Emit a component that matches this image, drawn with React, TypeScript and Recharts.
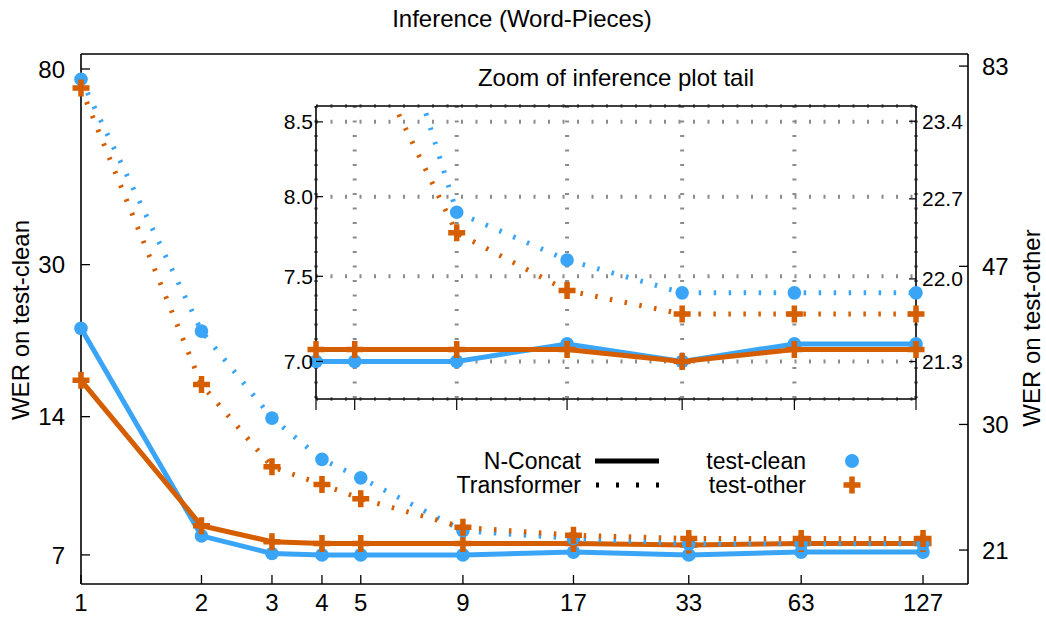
import React from 'react';
import { LineChart, Line, XAxis, YAxis, CartesianGrid } from 'recharts';

// ---------- data ----------
const chunks = [1, 2, 3, 4, 5, 9, 17, 33, 63, 127];
const cleanNConcat = [21.8, 7.7, 7.05, 7.0, 7.0, 7.0, 7.1, 7.0, 7.1, 7.1];
const otherNConcat = [34.0, 22.5, 21.5, 21.4, 21.4, 21.4, 21.4, 21.3, 21.4, 21.4];
const cleanTransformer = [76.0, 21.5, 13.9, 11.3, 10.3, 7.9, 7.6, 7.4, 7.4, 7.4];
const otherTransformer = [78.0, 33.6, 26.6, 25.3, 24.3, 22.4, 21.9, 21.7, 21.7, 21.7];

const xTicks = [1, 2, 3, 4, 5, 9, 17, 33, 63, 127];
const leftTicks = [7, 14, 30, 80];
const rightTicks = [21, 30, 47, 83];
const insetXTicks = [4, 5, 9, 17, 33, 63, 127];
const insetLeftTicks = [7.0, 7.5, 8.0, 8.5];
const insetRightTicks = [21.3, 22.0, 22.7, 23.4];

const xDomain = [1, 164.5];
const leftDomain = [6.05, 86.25];
const rightDomain = [19.07, 85.9];
const insetXDomain = [4, 127];
const insetLeftDomain = [6.79, 8.61];
const insetRightDomain = [20.99, 23.54];

const rows = chunks.map((x, i) => ({
  x,
  cleanN: cleanNConcat[i],
  otherN: otherNConcat[i],
  cleanT: cleanTransformer[i],
  otherT: otherTransformer[i],
}));
const insetRows = rows.filter((r) => r.x >= insetXDomain[0]);

// ---------- style / layout ----------
const W = 1046;
const H = 617;
const P = { left: 81, top: 54, right: 968, bottom: 584 };
const IP = { left: 316, top: 106, right: 916, bottom: 399 };
const BLUE = '#3aa5f6';
const ORANGE = '#d55e00';
const GRID = '#8c8c8c';
const FONT = '"Liberation Sans", Arial, Helvetica, sans-serif';
const DOTTED = '2.5 12.5';

const Circle = (p: any) =>
  p.cx == null || p.cy == null ? <g key={p.key} /> : (
    <circle key={p.key} cx={p.cx} cy={p.cy} r={6.8} fill={BLUE} stroke="none" />
  );
const Plus = (p: any) =>
  p.cx == null || p.cy == null ? <g key={p.key} /> : (
    <path
      key={p.key}
      d={`M${p.cx - 8.5},${p.cy}H${p.cx + 8.5}M${p.cx},${p.cy - 8.5}V${p.cy + 8.5}`}
      stroke={ORANGE}
      strokeWidth={5.5}
      fill="none"
    />
  );

// main ticks (inward)
const BottomTick = (p: any) => (
  <g>
    <line x1={p.x} x2={p.x} y1={P.bottom} y2={P.bottom - 9} stroke="#000" strokeWidth={1.3} />
    <text x={p.x} y={611} textAnchor="middle" fontSize={24} fill="#000" fontFamily={FONT}>
      {p.payload.value}
    </text>
  </g>
);
const LeftTick = (p: any) => (
  <g>
    <line x1={P.left} x2={P.left + 9} y1={p.y} y2={p.y} stroke="#000" strokeWidth={1.3} />
    <text x={65} y={p.y} dy="0.36em" textAnchor="end" fontSize={24} fill="#000" fontFamily={FONT}>
      {p.payload.value}
    </text>
  </g>
);
const RightTick = (p: any) => (
  <g>
    <line x1={P.right} x2={P.right - 9} y1={p.y} y2={p.y} stroke="#000" strokeWidth={1.3} />
    <text x={982} y={p.y} dy="0.36em" textAnchor="start" fontSize={24} fill="#000" fontFamily={FONT}>
      {p.payload.value}
    </text>
  </g>
);
// inset ticks
const InsetBottomTick = (p: any) => (
  <line x1={p.x} x2={p.x} y1={IP.bottom} y2={IP.bottom + 11} stroke="#000" strokeWidth={1.2} />
);
const InsetLeftTick = (p: any) => (
  <g>
    <line x1={IP.left} x2={IP.left + 7} y1={p.y} y2={p.y} stroke="#000" strokeWidth={1.2} />
    <text x={313} y={p.y} dy="0.36em" textAnchor="end" fontSize={21} fill="#000" fontFamily={FONT}>
      {Number(p.payload.value).toFixed(1)}
    </text>
  </g>
);
const InsetRightTick = (p: any) => (
  <g>
    <line x1={IP.right} x2={IP.right - 7} y1={p.y} y2={p.y} stroke="#000" strokeWidth={1.2} />
    <text x={922} y={p.y} dy="0.36em" textAnchor="start" fontSize={21} fill="#000" fontFamily={FONT}>
      {Number(p.payload.value).toFixed(1)}
    </text>
  </g>
);

const frame = { stroke: '#000', strokeWidth: 1.6 };

function renderLines(xId: string, lId: string, rId: string) {
  return [
    <Line key="cn" xAxisId={xId} yAxisId={lId} dataKey="cleanN" stroke={BLUE} strokeWidth={5} dot={Circle} activeDot={false} isAnimationActive={false} />,
    <Line key="on" xAxisId={xId} yAxisId={rId} dataKey="otherN" stroke={ORANGE} strokeWidth={5} dot={Plus} activeDot={false} isAnimationActive={false} />,
    <Line key="ct" xAxisId={xId} yAxisId={lId} dataKey="cleanT" stroke={BLUE} strokeWidth={5} strokeDasharray={DOTTED} dot={Circle} activeDot={false} isAnimationActive={false} />,
    <Line key="ot" xAxisId={xId} yAxisId={rId} dataKey="otherT" stroke={ORANGE} strokeWidth={5} strokeDasharray={DOTTED} dot={Plus} activeDot={false} isAnimationActive={false} />,
  ];
}

export default function App() {
  return (
    <div style={{ position: 'absolute', left: 0, top: 0, width: W, height: H, background: '#fff', fontFamily: FONT }}>
      <LineChart
        width={W}
        height={H}
        data={rows}
        margin={{ top: P.top - 1, left: P.left - 1, right: W - P.right - 1, bottom: H - P.bottom - 1 }}
        style={{ position: 'absolute', left: 0, top: 0 }}
      >
        <XAxis xAxisId="b" dataKey="x" type="number" scale="log" domain={xDomain} ticks={xTicks} interval={0} height={1} axisLine={frame} tickLine={false} tick={BottomTick} />
        <XAxis xAxisId="t" orientation="top" dataKey="x" type="number" scale="log" domain={xDomain} height={1} axisLine={frame} tickLine={false} tick={false} />
        <YAxis yAxisId="L" type="number" scale="log" domain={leftDomain} ticks={leftTicks} interval={0} width={1} axisLine={frame} tickLine={false} tick={LeftTick} />
        <YAxis yAxisId="R" orientation="right" type="number" scale="log" domain={rightDomain} ticks={rightTicks} interval={0} width={1} axisLine={frame} tickLine={false} tick={RightTick} />
        {renderLines('b', 'L', 'R')}
      </LineChart>

      <LineChart
        width={W}
        height={H}
        data={insetRows}
        margin={{ top: IP.top - 1, left: IP.left - 1, right: W - IP.right - 1, bottom: H - IP.bottom - 1 }}
        style={{ position: 'absolute', left: 0, top: 0 }}
      >
        <CartesianGrid xAxisId="ib" yAxisId="iL" stroke={GRID} strokeWidth={4} strokeDasharray="2 12.5" />
        <XAxis xAxisId="ib" dataKey="x" type="number" scale="log" domain={insetXDomain} ticks={insetXTicks} interval={0} height={1} axisLine={frame} tickLine={false} tick={InsetBottomTick} />
        <XAxis xAxisId="it" orientation="top" dataKey="x" type="number" scale="log" domain={insetXDomain} height={1} axisLine={frame} tickLine={false} tick={false} />
        <YAxis yAxisId="iL" type="number" scale="log" domain={insetLeftDomain} allowDataOverflow ticks={insetLeftTicks} interval={0} width={1} axisLine={frame} tickLine={false} tick={InsetLeftTick} />
        <YAxis yAxisId="iR" orientation="right" type="number" scale="log" domain={insetRightDomain} allowDataOverflow ticks={insetRightTicks} interval={0} width={1} axisLine={frame} tickLine={false} tick={InsetRightTick} />
        {renderLines('ib', 'iL', 'iR')}
      </LineChart>

      <svg width={W} height={H} style={{ position: 'absolute', left: 0, top: 0, pointerEvents: 'none' }} fontFamily={FONT}>
        <text x={522} y={27} textAnchor="middle" fontSize={24} fill="#000">Inference (Word-Pieces)</text>
        <text x={616} y={86} textAnchor="middle" fontSize={24} fill="#000">Zoom of inference plot tail</text>
        <text transform="translate(29,320) rotate(-90)" textAnchor="middle" fontSize={24} fill="#000">WER on test-clean</text>
        <text transform="translate(1040,328) rotate(-90)" textAnchor="middle" fontSize={24} fill="#000">WER on test-other</text>
        {/* legend */}
        <text x={581} y={469} textAnchor="end" fontSize={23} fill="#000">N-Concat</text>
        <line x1={595} x2={659} y1={461} y2={461} stroke="#000" strokeWidth={5} />
        <text x={581} y={493} textAnchor="end" fontSize={23} fill="#000">Transformer</text>
        <line x1={596} x2={659} y1={485} y2={485} stroke="#000" strokeWidth={5} strokeDasharray="3 17" />
        <text x={806} y={469} textAnchor="end" fontSize={23} fill="#000">test-clean</text>
        <circle cx={852} cy={461} r={7} fill={BLUE} />
        <text x={806} y={493} textAnchor="end" fontSize={23} fill="#000">test-other</text>
        <path d="M843.5,485H860.5M852,476.5V493.5" stroke={ORANGE} strokeWidth={5.5} fill="none" />
      </svg>
    </div>
  );
}
